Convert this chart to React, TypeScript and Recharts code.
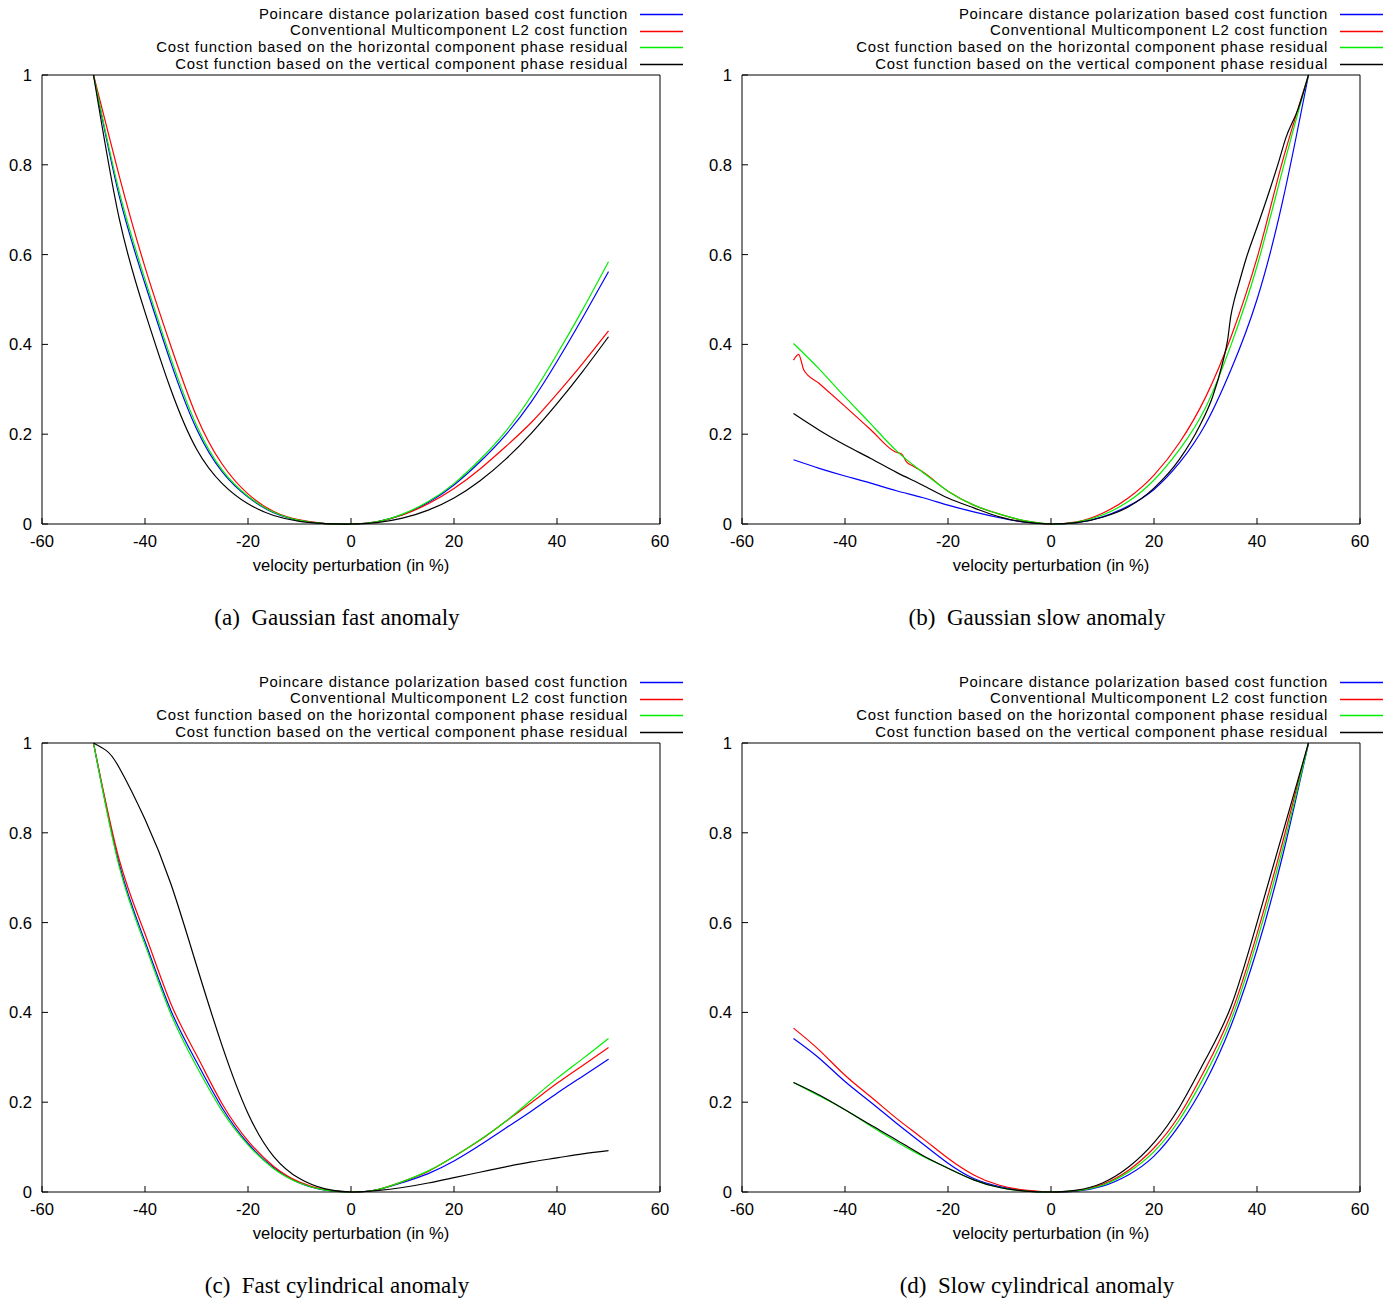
import React from 'react';
import { LineChart, Line, XAxis, YAxis } from 'recharts';

// x grid (velocity perturbation, %)
const PERTURBATION = [-50, -45, -40, -35, -30, -25, -20, -15, -10, -5, 0, 5, 10, 15, 20, 25, 30, 35, 40, 45, 50];
const X_TICKS = [-60, -40, -20, 0, 20, 40, 60];
const Y_TICKS = [0, 0.2, 0.4, 0.6, 0.8, 1];

const SERIES_NAMES = [
  'Poincare distance polarization based cost function',
  'Conventional Multicomponent L2 cost function',
  'Cost function based on the horizontal component phase residual',
  'Cost function based on the vertical component phase residual',
];
const SERIES_COLORS = ['#0000ff', '#ff0000', '#00ee00', '#000000'];

const CAPTIONS = [
  '(a)  Gaussian fast anomaly',
  '(b)  Gaussian slow anomaly',
  '(c)  Fast cylindrical anomaly',
  '(d)  Slow cylindrical anomaly',
];

// (a) Gaussian fast anomaly
const A_POINCARE = [1, 0.73, 0.535, 0.36, 0.212, 0.116, 0.06, 0.025, 0.008, 0.001, 0, 0.005, 0.021, 0.048, 0.087, 0.138, 0.198, 0.272, 0.362, 0.46, 0.562];
const A_L2 = [1, 0.775, 0.572, 0.397, 0.24, 0.133, 0.067, 0.028, 0.009, 0.001, 0, 0.005, 0.02, 0.045, 0.079, 0.122, 0.172, 0.226, 0.29, 0.358, 0.43];
const A_HORIZ = [1, 0.74, 0.545, 0.37, 0.22, 0.12, 0.062, 0.026, 0.008, 0.001, 0, 0.005, 0.022, 0.05, 0.09, 0.143, 0.206, 0.285, 0.378, 0.478, 0.584];
const A_VERT = [1, 0.68, 0.472, 0.3, 0.167, 0.09, 0.045, 0.019, 0.006, 0.001, 0, 0.003, 0.013, 0.031, 0.058, 0.096, 0.144, 0.202, 0.268, 0.34, 0.417];

// (b) Gaussian slow anomaly
const B_POINCARE = [0.143, 0.124, 0.107, 0.091, 0.074, 0.059, 0.042, 0.027, 0.014, 0.004, 0, 0.003, 0.016, 0.04, 0.077, 0.137, 0.222, 0.345, 0.5, 0.72, 1];
const B_L2_X = [-50, -49, -48, -45, -40, -35, -30.3, -29, -28.1, -26.8, -25, -20, -15, -10, -5, 0, 5, 10, 15, 20, 25, 30, 35, 40, 45, 50];
const B_L2 = [0.365, 0.378, 0.343, 0.313, 0.262, 0.21, 0.161, 0.156, 0.139, 0.129, 0.117, 0.073, 0.042, 0.022, 0.007, 0, 0.005, 0.024, 0.058, 0.109, 0.182, 0.282, 0.418, 0.592, 0.81, 1];
const B_HORIZ = [0.402, 0.345, 0.283, 0.223, 0.163, 0.116, 0.073, 0.042, 0.022, 0.007, 0, 0.004, 0.02, 0.05, 0.098, 0.167, 0.259, 0.4, 0.574, 0.79, 1];
const B_VERT_X = [-50, -45, -40, -35, -30, -25, -20, -15, -10, -5, 0, 5, 10, 15, 20, 25, 28.8, 31.4, 33.3, 34.3, 34.9, 35.6, 36.5, 37.8, 40.5, 42.5, 44.3, 45.6, 48, 50];
const B_VERT = [0.246, 0.209, 0.176, 0.146, 0.115, 0.087, 0.058, 0.036, 0.016, 0.004, 0, 0.003, 0.015, 0.038, 0.08, 0.145, 0.217, 0.284, 0.358, 0.41, 0.462, 0.499, 0.536, 0.588, 0.677, 0.745, 0.81, 0.86, 0.925, 1];

// (c) Fast cylindrical anomaly
const C_POINCARE = [1, 0.73, 0.558, 0.405, 0.29, 0.187, 0.108, 0.054, 0.02, 0.004, 0, 0.005, 0.021, 0.041, 0.069, 0.104, 0.142, 0.18, 0.22, 0.258, 0.296];
const C_L2 = [1, 0.74, 0.575, 0.42, 0.305, 0.196, 0.114, 0.057, 0.022, 0.005, 0, 0.005, 0.023, 0.046, 0.079, 0.115, 0.157, 0.199, 0.242, 0.282, 0.322];
const C_HORIZ = [1, 0.724, 0.551, 0.397, 0.28, 0.18, 0.105, 0.052, 0.02, 0.004, 0, 0.005, 0.023, 0.047, 0.079, 0.116, 0.157, 0.205, 0.253, 0.297, 0.342];
const C_VERT_X = [-50, -47.5, -45, -40, -35, -30, -25, -20, -15, -10, -5, 0, 5, 10, 15, 20, 25, 30, 35, 40, 45, 50];
const C_VERT = [1, 0.983, 0.945, 0.83, 0.687, 0.505, 0.325, 0.175, 0.079, 0.03, 0.007, 0, 0.003, 0.01, 0.02, 0.032, 0.044, 0.056, 0.067, 0.076, 0.085, 0.092];

// (d) Slow cylindrical anomaly
const D_POINCARE = [0.342, 0.298, 0.246, 0.2, 0.153, 0.108, 0.064, 0.03, 0.012, 0.003, 0, 0.002, 0.013, 0.038, 0.08, 0.15, 0.245, 0.372, 0.54, 0.75, 1];
const D_L2 = [0.365, 0.316, 0.26, 0.212, 0.164, 0.12, 0.075, 0.038, 0.015, 0.004, 0, 0.003, 0.017, 0.048, 0.098, 0.172, 0.275, 0.398, 0.575, 0.78, 1];
const D_HORIZ = [0.244, 0.214, 0.183, 0.147, 0.112, 0.08, 0.053, 0.027, 0.01, 0.002, 0, 0.003, 0.015, 0.044, 0.09, 0.162, 0.262, 0.385, 0.56, 0.765, 1];
const D_VERT = [0.244, 0.216, 0.183, 0.149, 0.116, 0.082, 0.053, 0.027, 0.01, 0.002, 0, 0.004, 0.02, 0.055, 0.11, 0.19, 0.295, 0.415, 0.6, 0.8, 1];

const SANS = '"Liberation Sans", Arial, sans-serif';
const SERIF = '"Liberation Serif", "Times New Roman", serif';
const FS = 16.6;
const LEGEND_FS = 14.9;

const pts = (xs: number[], ys: number[]) => xs.map((x, i) => ({ x, y: ys[i] }));

const PANELS = [
  { left: 0, top: 0, series: [pts(PERTURBATION, A_POINCARE), pts(PERTURBATION, A_L2), pts(PERTURBATION, A_HORIZ), pts(PERTURBATION, A_VERT)], curve: ['natural', 'natural', 'natural', 'natural'] },
  { left: 700, top: 0, series: [pts(PERTURBATION, B_POINCARE), pts(B_L2_X, B_L2), pts(PERTURBATION, B_HORIZ), pts(B_VERT_X, B_VERT)], curve: ['natural', 'monotone', 'natural', 'monotone'] },
  { left: 0, top: 668, series: [pts(PERTURBATION, C_POINCARE), pts(PERTURBATION, C_L2), pts(PERTURBATION, C_HORIZ), pts(C_VERT_X, C_VERT)], curve: ['natural', 'natural', 'natural', 'natural'] },
  { left: 700, top: 668, series: [pts(PERTURBATION, D_POINCARE), pts(PERTURBATION, D_L2), pts(PERTURBATION, D_HORIZ), pts(PERTURBATION, D_VERT)], curve: ['natural', 'natural', 'natural', 'natural'] },
];

// gnuplot style: ticks point inward, mirrored on top / right
const BottomTick = (props: any) => {
  const { x, y, payload } = props;
  return (
    <g>
      <line x1={x} y1={y} x2={x} y2={y - 6} stroke="#000" />
      <text x={x} y={y + 23} textAnchor="middle" fontSize={FS} fontFamily={SANS} fill="#000">{payload.value}</text>
    </g>
  );
};
const LeftTick = (props: any) => {
  const { x, y, payload } = props;
  return (
    <g>
      <line x1={x} y1={y} x2={x + 6} y2={y} stroke="#000" />
      <text x={x - 10} y={y + 6} textAnchor="end" fontSize={FS} fontFamily={SANS} fill="#000">{payload.value}</text>
    </g>
  );
};
const TopTick = (props: any) => <line x1={props.x} y1={props.y} x2={props.x} y2={props.y + 6} stroke="#000" />;
const RightTick = (props: any) => <line x1={props.x} y1={props.y} x2={props.x - 6} y2={props.y} stroke="#000" />;

const rowY = (i: number) => 14 + i * 16.7;

function Panel({ idx }: { idx: number }) {
  const p = PANELS[idx];
  return (
    <div style={{ position: 'absolute', left: p.left, top: p.top, width: 700, height: 668 }}>
      {SERIES_NAMES.map((name, i) => (
        <div key={name} style={{ position: 'absolute', right: 72, top: rowY(i) - 8.3, fontFamily: SANS, fontSize: LEGEND_FS, letterSpacing: '0.76px', lineHeight: '16.6px', whiteSpace: 'nowrap', color: '#000' }}>{name}</div>
      ))}
      <svg style={{ position: 'absolute', left: 636, top: 0 }} width={52} height={75}>
        {SERIES_COLORS.map((c, i) => (
          <line key={c} x1={4} x2={47} y1={Math.round(rowY(i)) + 0.5} y2={Math.round(rowY(i)) + 0.5} stroke={c} strokeWidth={1.3} />
        ))}
      </svg>
      <div style={{ position: 'absolute', left: 0, top: 0 }}>
        <LineChart width={700} height={600} margin={{ top: 74, right: 39, bottom: 46, left: 0 }}>
          <XAxis dataKey="x" type="number" domain={[-60, 60]} ticks={X_TICKS} interval={0} height={30}
            tickSize={0} tickMargin={0} tickLine={false} axisLine={{ stroke: '#000' }} tick={<BottomTick />} />
          <XAxis xAxisId="top" orientation="top" dataKey="x" type="number" domain={[-60, 60]} ticks={X_TICKS} interval={0} height={1}
            tickSize={0} tickMargin={0} tickLine={false} axisLine={{ stroke: '#000' }} tick={<TopTick />} />
          <YAxis type="number" domain={[0, 1]} ticks={Y_TICKS} interval={0} width={42}
            tickSize={0} tickMargin={0} tickLine={false} axisLine={{ stroke: '#000' }} tick={<LeftTick />} />
          <YAxis yAxisId="right" orientation="right" type="number" domain={[0, 1]} ticks={Y_TICKS} interval={0} width={1}
            tickSize={0} tickMargin={0} tickLine={false} axisLine={{ stroke: '#000' }} tick={<RightTick />} />
          {p.series.map((d, i) => (
            <Line key={i} data={d} dataKey="y" type={p.curve[i] as any} stroke={SERIES_COLORS[i]} strokeWidth={1.2}
              dot={false} activeDot={false} isAnimationActive={false} />
          ))}
        </LineChart>
      </div>
      <div style={{ position: 'absolute', left: 0, top: 556, width: 702, textAlign: 'center', fontFamily: SANS, fontSize: FS, lineHeight: '20px', color: '#000' }}>
        velocity perturbation (in %)
      </div>
      <div style={{ position: 'absolute', left: 0, top: 604, width: 674, textAlign: 'center', fontFamily: SERIF, fontSize: 23, lineHeight: '28px', whiteSpace: 'pre', color: '#000' }}>
        {CAPTIONS[idx]}
      </div>
    </div>
  );
}

export default function App() {
  return (
    <div style={{ position: 'absolute', left: 0, top: 0, width: 1396, height: 1299, background: '#fff', overflow: 'hidden' }}>
      {PANELS.map((_, i) => <Panel key={i} idx={i} />)}
    </div>
  );
}
